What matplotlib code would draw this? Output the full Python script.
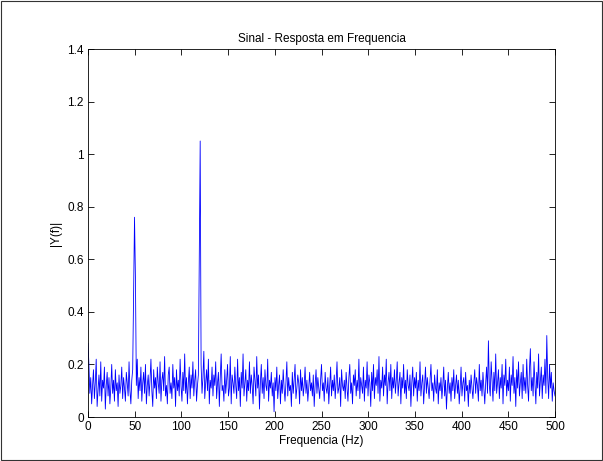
import numpy as np
import matplotlib
matplotlib.use('Agg')
import matplotlib.pyplot as plt
from matplotlib.patches import Rectangle

plt.rcParams['font.family'] = ['Liberation Sans', 'DejaVu Sans']

# frequency grid (NFFT = 1024, Fs = 1000)
n_points = 513
f_max = 500

# |Y(f)|, 20 points per row
Y = [
    0.28, 0.20, 0.09, 0.15, 0.05, 0.12, 0.18, 0.07, 0.13, 0.22, 0.04, 0.10, 0.16, 0.08, 0.21, 0.06, 0.14, 0.11, 0.19, 0.03,
    0.12, 0.17, 0.08, 0.15, 0.05, 0.11, 0.20, 0.09, 0.14, 0.06, 0.18, 0.10, 0.13, 0.04, 0.16, 0.09, 0.12, 0.19, 0.07, 0.15,
    0.11, 0.06, 0.17, 0.13, 0.08, 0.21, 0.10, 0.05, 0.14, 0.18, 0.47, 0.76, 0.53, 0.12, 0.22, 0.07, 0.15, 0.10, 0.19, 0.06,
    0.13, 0.17, 0.09, 0.20, 0.05, 0.12, 0.16, 0.08, 0.14, 0.22, 0.10, 0.04, 0.18, 0.11, 0.15, 0.07, 0.19, 0.13, 0.09, 0.21,
    0.06, 0.14, 0.17, 0.10, 0.23, 0.08, 0.12, 0.05, 0.16, 0.19, 0.09, 0.13, 0.07, 0.20, 0.11, 0.15, 0.04, 0.18, 0.10, 0.14,
    0.08, 0.22, 0.12, 0.06, 0.17, 0.10, 0.24, 0.09, 0.15, 0.05, 0.13, 0.19, 0.07, 0.16, 0.11, 0.21, 0.08, 0.14, 0.18, 0.06,
    0.12, 0.16, 0.58, 1.05, 0.20, 0.09, 0.15, 0.25, 0.07, 0.13, 0.18, 0.10, 0.22, 0.05, 0.14, 0.11, 0.19, 0.08, 0.16, 0.12,
    0.21, 0.07, 0.13, 0.17, 0.04, 0.15, 0.24, 0.10, 0.12, 0.06, 0.18, 0.09, 0.14, 0.20, 0.08, 0.11, 0.23, 0.05, 0.16, 0.13,
    0.09, 0.19, 0.12, 0.07, 0.22, 0.10, 0.15, 0.04, 0.17, 0.11, 0.24, 0.08, 0.13, 0.18, 0.06, 0.14, 0.10, 0.21, 0.09, 0.16,
    0.12, 0.05, 0.19, 0.14, 0.08, 0.23, 0.11, 0.16, 0.03, 0.13, 0.20, 0.09, 0.15, 0.07, 0.18, 0.12, 0.10, 0.22, 0.06, 0.14,
    0.11, 0.17, 0.08, 0.13, 0.02, 0.15, 0.10, 0.19, 0.07, 0.12, 0.16, 0.05, 0.14, 0.09, 0.18, 0.11, 0.06, 0.13, 0.21, 0.08,
    0.15, 0.10, 0.12, 0.04, 0.17, 0.09, 0.14, 0.20, 0.07, 0.11, 0.16, 0.13, 0.05, 0.18, 0.10, 0.15, 0.08, 0.12, 0.19, 0.09,
    0.14, 0.06, 0.11, 0.17, 0.10, 0.13, 0.08, 0.16, 0.04, 0.12, 0.18, 0.09, 0.15, 0.11, 0.07, 0.14, 0.20, 0.10, 0.13, 0.06,
    0.17, 0.11, 0.09, 0.15, 0.05, 0.12, 0.19, 0.08, 0.14, 0.10, 0.16, 0.07, 0.13, 0.21, 0.09, 0.11, 0.15, 0.04, 0.18, 0.12,
    0.10, 0.14, 0.07, 0.17, 0.11, 0.06, 0.15, 0.20, 0.09, 0.13, 0.05, 0.16, 0.12, 0.18, 0.08, 0.14, 0.10, 0.22, 0.07, 0.15,
    0.12, 0.09, 0.19, 0.06, 0.14, 0.11, 0.21, 0.08, 0.16, 0.13, 0.04, 0.17, 0.10, 0.20, 0.07, 0.15, 0.12, 0.18, 0.09, 0.23,
    0.06, 0.14, 0.11, 0.19, 0.08, 0.16, 0.12, 0.22, 0.05, 0.13, 0.17, 0.10, 0.20, 0.07, 0.15, 0.11, 0.18, 0.09, 0.14, 0.21,
    0.08, 0.13, 0.17, 0.05, 0.15, 0.11, 0.20, 0.09, 0.14, 0.07, 0.18, 0.12, 0.10, 0.16, 0.04, 0.13, 0.19, 0.08, 0.15, 0.11,
    0.17, 0.06, 0.14, 0.10, 0.21, 0.08, 0.13, 0.16, 0.05, 0.12, 0.19, 0.09, 0.15, 0.11, 0.07, 0.14, 0.20, 0.10, 0.13, 0.06,
    0.16, 0.11, 0.09, 0.18, 0.05, 0.13, 0.10, 0.15, 0.07, 0.12, 0.19, 0.08, 0.14, 0.03, 0.11, 0.17, 0.09, 0.13, 0.06, 0.15,
    0.10, 0.18, 0.07, 0.12, 0.16, 0.09, 0.14, 0.05, 0.11, 0.19, 0.08, 0.13, 0.15, 0.06, 0.17, 0.10, 0.12, 0.04, 0.14, 0.09,
    0.16, 0.11, 0.07, 0.13, 0.18, 0.09, 0.15, 0.12, 0.06, 0.20, 0.10, 0.14, 0.08, 0.17, 0.11, 0.05, 0.13, 0.19, 0.09, 0.29,
    0.12, 0.08, 0.21, 0.14, 0.06, 0.17, 0.10, 0.24, 0.09, 0.13, 0.18, 0.07, 0.15, 0.11, 0.20, 0.05, 0.16, 0.12, 0.22, 0.08,
    0.14, 0.10, 0.19, 0.06, 0.16, 0.12, 0.23, 0.09, 0.15, 0.04, 0.18, 0.11, 0.21, 0.08, 0.13, 0.17, 0.07, 0.20, 0.10, 0.15,
    0.09, 0.22, 0.12, 0.06, 0.18, 0.26, 0.10, 0.15, 0.08, 0.21, 0.13, 0.05, 0.17, 0.11, 0.24, 0.08, 0.14, 0.19, 0.07, 0.16,
    0.12, 0.22, 0.09, 0.31, 0.15, 0.07, 0.20, 0.11, 0.17, 0.06, 0.13, 0.10, 0.08,
]

f = np.linspace(0, f_max, n_points)

xticks = list(range(0, 501, 50))
yticks = [0, 0.2, 0.4, 0.6, 0.8, 1, 1.2, 1.4]
ytick_labels = ['0', '0.2', '0.4', '0.6', '0.8', '1', '1.2', '1.4']

fig = plt.figure(figsize=(6.03, 4.61), dpi=100)
ax = fig.add_axes([88/603, 44/461, 467/603, 368/461])
ax.plot(f[:len(Y)], Y, color='#0000ff', linewidth=0.6)
ax.set_xlim(0, 500)
ax.set_ylim(0, 1.4)
ax.set_xticks(xticks)
ax.set_yticks(yticks)
ax.set_yticklabels(ytick_labels)
ax.tick_params(direction='in', top=True, right=True, length=4, width=0.6, labelsize=8.5, pad=3)
for s in ax.spines.values():
    s.set_linewidth(0.6)
ax.set_title('Sinal - Resposta em Frequencia', fontsize=8.5, pad=5)
ax.set_xlabel('Frequencia (Hz)', fontsize=8.5, labelpad=1)
ax.set_ylabel('|Y(f)|', fontsize=8.5, labelpad=4)

# thin frame round the whole picture, as in the screenshot
fig.patches.append(Rectangle((0.002, 0.003), 0.996, 0.994, transform=fig.transFigure,
                             fill=False, edgecolor='#333333', linewidth=0.8))

fig.savefig('out.png', dpi=100)
